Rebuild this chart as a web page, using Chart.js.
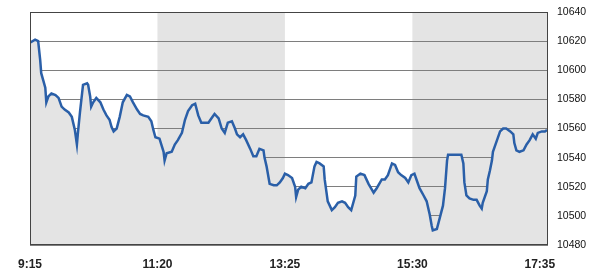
<!DOCTYPE html>
<html><head><meta charset="utf-8">
<script src="https://cdn.jsdelivr.net/npm/chart.js@4/dist/chart.umd.min.js"></script>
<style>html,body{margin:0;padding:0;background:#fff}#wrap{width:601px;height:276px}</style>
</head><body><div id="wrap"><canvas id="c"></canvas></div>
<script>
// minutes after 9:15
const minutes = [0,5,8,10,11,13,15,16,18,21,25,28,31,34,38,41,44,46,47,49,52,56,57,59,60,62,65,69,72,75,78,80,82,85,88,91,95,98,101,105,108,111,116,119,121,123,127,131,132,134,139,142,145,149,152,155,159,162,165,168,175,178,181,185,188,191,194,198,201,203,206,209,212,216,219,222,225,229,230,232,235,239,242,245,248,250,253,257,260,261,263,266,270,273,276,279,281,284,288,289,292,296,299,302,306,309,312,315,319,320,324,328,332,337,340,345,348,351,355,358,361,364,368,371,374,377,379,382,386,389,392,394,395,399,402,405,407,409,410,417,423,425,426,428,431,435,438,441,443,444,448,449,451,453,454,458,461,464,467,471,474,475,477,480,484,487,490,493,496,498,502,505,507];
const values = [10619,10621,10620,10607,10598,10593,10588,10578,10582,10584,10583,10581,10575,10573,10571,10568,10559,10549,10557,10571,10590,10591,10590,10582,10575,10578,10581,10578,10573,10569,10566,10561,10558,10560,10568,10578,10583,10582,10578,10573,10570,10569,10568,10565,10559,10554,10553,10544,10538,10543,10544,10549,10552,10557,10566,10572,10576,10577,10569,10564,10564,10567,10570,10567,10560,10557,10564,10565,10560,10556,10554,10556,10552,10546,10541,10541,10546,10545,10540,10534,10522,10521,10521,10523,10526,10529,10528,10526,10520,10513,10518,10520,10519,10522,10523,10534,10537,10536,10534,10525,10510,10504,10506,10509,10510,10509,10506,10504,10514,10527,10529,10528,10522,10516,10519,10525,10525,10528,10536,10535,10530,10528,10526,10523,10528,10529,10525,10519,10514,10510,10501,10493,10490,10491,10499,10507,10519,10538,10542,10542,10542,10536,10523,10514,10512,10511,10511,10507,10505,10509,10517,10525,10531,10538,10544,10552,10558,10560,10560,10558,10556,10550,10545,10544,10545,10549,10552,10556,10553,10557,10558,10558,10559];
const tickMinutes = [0,125,250,375,500];
const tickLabels = ['9:15','11:20','13:25','15:30','17:35'];
const yTicks = [10480,10500,10520,10540,10560,10580,10600,10620,10640];
const shadedBands = [[125,250],[375,508]];

const pts = minutes.map((m,i)=>({x:m,y:values[i]}));

const bgPlugin = {
  id:'bg',
  beforeDraw(chart){
    const {ctx, chartArea:a, scales:{x}} = chart;
    ctx.save();
    ctx.fillStyle = '#e4e4e4';
    shadedBands.forEach(([s,e])=>{
      const x0 = x.getPixelForValue(s), x1 = x.getPixelForValue(e);
      ctx.fillRect(x0, a.top, x1-x0, a.bottom-a.top);
    });
    ctx.restore();
  },
  afterDatasetsDraw(chart){
    const {ctx, chartArea:a} = chart;
    ctx.save();
    ctx.strokeStyle = '#444';
    ctx.lineWidth = 1;
    ctx.strokeRect(Math.round(a.left)+0.5, Math.round(a.top)+0.5, Math.round(a.right-a.left)-1, Math.round(a.bottom-a.top)-1);
    ctx.restore();
  }
};

new Chart(document.getElementById('c'), {
  type:'line',
  data:{datasets:[{
    data:pts,
    borderColor:'#2a5fa8',
    borderWidth:2.5,
    backgroundColor:'#e4e4e4',
    fill:'start',
    pointRadius:0,
    tension:0
  }]},
  options:{
    responsive:true, maintainAspectRatio:false, animation:false,
    devicePixelRatio:1,
    layout:{padding:{left:30,top:12,right:0,bottom:0}},
    plugins:{legend:{display:false},tooltip:{enabled:false}},
    scales:{
      x:{
        type:'linear', min:0, max:508,
        afterBuildTicks(s){ s.ticks = tickMinutes.map(v=>({value:v})); },
        afterFit(s){ s.height = 31; s.paddingLeft = 0; s.paddingRight = 0; },
        grid:{display:false, drawTicks:false},
        border:{display:false},
        ticks:{
          padding:12, maxRotation:0, autoSkip:false, color:'#222',
          font:{family:'Liberation Sans', size:12, weight:'bold'},
          callback(v){ const i = tickMinutes.indexOf(v); return i>=0 ? tickLabels[i] : ''; }
        }
      },
      y:{
        position:'right', min:10480, max:10640,
        afterBuildTicks(s){ s.ticks = yTicks.map(v=>({value:v})); },
        afterFit(s){ s.width = 53; s.paddingTop = 0; s.paddingBottom = 0; },
        grid:{color:'#7e7e7e', lineWidth:1, drawTicks:false},
        border:{display:false},
        ticks:{
          padding:9, color:'#111',
          font:{family:'Liberation Sans', size:10.5},
          callback(v){ return String(v); }
        }
      }
    }
  },
  plugins:[bgPlugin]
});
</script></body></html>
